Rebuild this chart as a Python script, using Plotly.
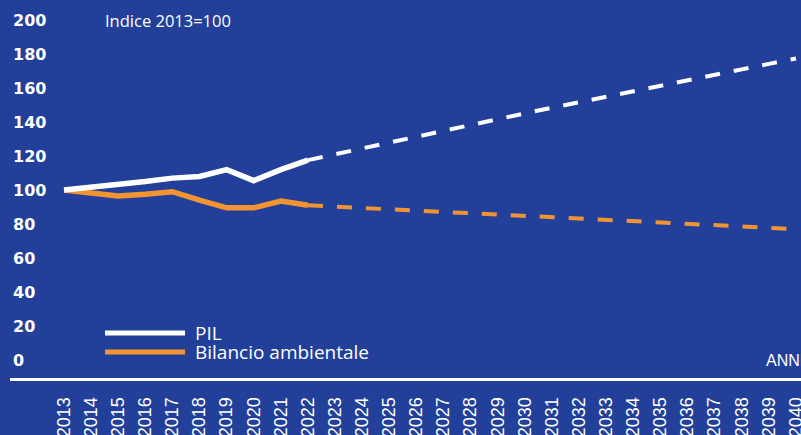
import plotly.graph_objects as go

years_hist = list(range(2013, 2023))
years_proj = list(range(2022, 2041))
tick_years = list(range(2013, 2041))

pil_hist = [100, 101.5, 103, 105, 107, 108, 112, 105.5, 112, 117.6]
bil_hist = [100, 98, 96.5, 97.5, 99, 94, 89.5, 89.5, 93.5, 91]

pil_proj = [117.6, 121.1, 124.6, 128.1, 131.6, 135.0, 138.4, 141.8, 145.1, 148.4,
            151.7, 155.0, 158.2, 161.4, 164.6, 167.8, 171.0, 174.2, 177.4]
bil_proj = [91, 90.2, 89.5, 88.7, 87.9, 87.2, 86.4, 85.6, 84.8, 84.0,
            83.2, 82.5, 81.7, 80.9, 80.1, 79.3, 78.5, 77.8, 77.0]

y_ticks = [0, 20, 40, 60, 80, 100, 120, 140, 160, 180, 200]

BG = "#22409A"
ORANGE = "#F39433"
WHITE = "#FFFFFF"

fig = go.Figure()
fig.add_trace(go.Scatter(x=years_proj, y=bil_proj, mode="lines",
                         line=dict(color=ORANGE, width=4, dash="15px,14px"),
                         showlegend=False, hoverinfo="skip"))
fig.add_trace(go.Scatter(x=years_proj, y=pil_proj, mode="lines",
                         line=dict(color=WHITE, width=4, dash="15px,14px"),
                         showlegend=False, hoverinfo="skip"))
fig.add_trace(go.Scatter(x=years_hist, y=bil_hist, mode="lines",
                         line=dict(color=ORANGE, width=5.5), showlegend=False))
fig.add_trace(go.Scatter(x=years_hist, y=pil_hist, mode="lines",
                         line=dict(color=WHITE, width=5.5), showlegend=False))

# legend drawn manually (paper coords)
W, H = 801, 435
ml, mr, mt, mb = 10, 0, 0, 57
pw, ph = W - ml - mr, H - mt - mb

def px(xp):
    return (xp - ml) / pw

def py(yp):
    return 1 - (yp - mt) / ph

shapes = [
    dict(type="line", xref="paper", yref="paper", x0=px(105), x1=px(185),
         y0=py(333), y1=py(333), line=dict(color=WHITE, width=5)),
    dict(type="line", xref="paper", yref="paper", x0=px(105), x1=px(185),
         y0=py(352), y1=py(352), line=dict(color=ORANGE, width=5)),
]
txtfont = dict(family="Open Sans, Noto Sans, sans-serif", color=WHITE, size=19)
annotations = [
    dict(text="PIL", xref="paper", yref="paper", x=px(193), y=py(333),
         xanchor="left", yanchor="middle", showarrow=False, font=txtfont),
    dict(text="Bilancio ambientale", xref="paper", yref="paper", x=px(193), y=py(352),
         xanchor="left", yanchor="middle", showarrow=False, font=txtfont),
    dict(text="Indice 2013=100", xref="paper", yref="paper", x=px(103), y=py(20),
         xanchor="left", yanchor="middle", showarrow=False,
         font=dict(family="Open Sans, Noto Sans, sans-serif", color=WHITE, size=16.5)),
    dict(text="ANNI", xref="paper", yref="paper", x=px(764), y=py(360),
         xanchor="left", yanchor="middle", showarrow=False,
         font=dict(family="Liberation Sans, Arial, sans-serif", color=WHITE, size=16)),
]

x0 = 2013 - 54 / 27.11
x1 = x0 + pw / 27.11

fig.update_layout(
    width=W, height=H,
    margin=dict(l=ml, r=mr, t=mt, b=mb, pad=0, autoexpand=False),
    paper_bgcolor=BG, plot_bgcolor=BG,
    showlegend=False,
    shapes=shapes, annotations=annotations,
    xaxis=dict(range=[x0, x1], tickmode="array", tickvals=tick_years,
               ticktext=[str(y) for y in tick_years], tickangle=-90,
               automargin=False, ticklabeloverflow="allow",
               showgrid=False, zeroline=False, showline=True, linecolor=WHITE,
               linewidth=3, ticks="", ticklabelstandoff=9,
               tickfont=dict(family="Liberation Sans, Arial, sans-serif", size=18, color=WHITE)),
    yaxis=dict(range=[-10.6, 211.8], tickmode="array", tickvals=y_ticks,
               automargin=False,
               showgrid=False, zeroline=False, showline=False, ticks="",
               ticklabelposition="inside", ticklabelshift=0,
               tickfont=dict(family="DejaVu Sans, sans-serif", size=16,
                             color=WHITE, weight="bold")),
)

fig.write_html("out.html", config={"displayModeBar": False},
               post_script="document.body.style.margin='0';document.body.style.overflow='hidden';")
